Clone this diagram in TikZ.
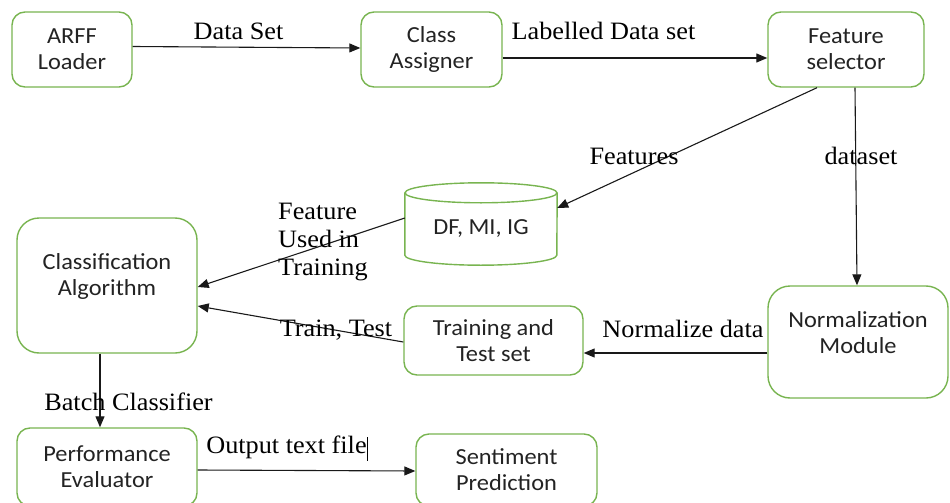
\documentclass[tikz,border=0pt]{standalone}
\usepackage{fontspec}
\setmainfont{Liberation Serif}[FakeStretch=1.05]
\newfontfamily\nodefont{Carlito}[FakeStretch=1.06]
\usetikzlibrary{arrows.meta}
\definecolor{boxgreen}{RGB}{120,180,80}
\definecolor{boxtext}{RGB}{35,35,35}
\tikzset{
  box/.style={draw=boxgreen, line width=1.4pt, rounded corners=13pt, align=center,
    font=\nodefont\fontsize{23}{26}\selectfont, text=boxtext, inner sep=0pt},
  bigbox/.style={box, rounded corners=22pt},
  boxlbl/.style={font=\nodefont\fontsize{23}{26}\selectfont, text=boxtext, align=center},
  conn/.style={draw=black!90, line width=1.1pt, -{Triangle[length=11pt,width=9pt]}},
  lbl/.style={font=\fontsize{25}{28}\selectfont, inner sep=0pt, text=black},
  cyl/.style={draw=boxgreen, line width=1.4pt}
}
\begin{document}
\begin{tikzpicture}[x=1pt,y=-1pt]
\useasboundingbox (0,0) rectangle (950,503);
% nodes
\node[box, minimum width=120pt, minimum height=75pt] (arff) at (72,49.5) {ARFF\\Loader};
\node[box, minimum width=141pt, minimum height=75pt] (cls) at (431.5,49.5) {Class\\Assigner};
\node[box, minimum width=156pt, minimum height=75pt] (fs) at (846,49.5) {Feature\\selector};
\node[minimum width=152pt, minimum height=82pt, inner sep=0pt,
  label={[boxlbl, yshift=-5pt]center:DF, MI, IG}] (db) at (481,224) {};
\draw[cyl] ([yshift=-10pt]db.north west) -- ([yshift=10pt]db.south west)
  arc[start angle=180, end angle=360, x radius=76pt, y radius=10pt] -- ([yshift=-10pt]db.north east);
\draw[cyl] ([yshift=-10pt]db.north) ellipse[x radius=76pt, y radius=10pt];
\node[bigbox, minimum width=180pt, minimum height=135pt,
  label={[boxlbl, yshift=9pt]center:Classification\\Algorithm}] (ca) at (107,285.5) {};
\node[box, minimum width=179pt, minimum height=69pt] (tt) at (493.5,340.5) {Training and\\Test set};
\node[bigbox, minimum width=180pt, minimum height=112pt,
  label={[boxlbl, yshift=9pt]center:Normalization\\Module}] (nm) at (858,342) {};
\node[box, minimum width=180pt, minimum height=78pt] (pe) at (107,467) {Performance\\Evaluator};
\node[box, minimum width=181pt, minimum height=72pt] (sp) at (506.5,470) {Sentiment\\Prediction};
% connectors
\draw[conn] ([yshift=3pt]arff.east) -- ([yshift=1.5pt]cls.west);
\draw[conn] ([yshift=-8.5pt]cls.east) -- ([yshift=-8.5pt]fs.west);
\draw[conn] ([xshift=-29pt]fs.south) -- ([yshift=16pt]db.east);
\draw[conn] ([xshift=9pt]fs.south) -- ([xshift=-1pt]nm.north);
\draw[conn] ([yshift=-11pt]nm.west) -- ([yshift=-12.5pt]tt.east);
\draw[conn] ([yshift=-1.5pt]tt.west) -- ([yshift=-20.5pt]ca.east);
\draw[conn] ([yshift=6pt]db.west) -- ([yshift=-1.5pt]ca.east);
\draw[conn] ([xshift=-7pt]ca.south) -- ([xshift=-7pt]pe.north);
\draw[conn] ([yshift=-3pt]pe.east) -- ([yshift=-1pt]sp.west);
% labels
\node[lbl] (l1) at (238.5,31) {Data Set};
\node[lbl] (l2) at (603.5,31) {Labelled Data set};
\node[lbl] (l3) at (634,156) {Features};
\node[lbl] (l4) at (861,156) {dataset};
\node[lbl, align=left, anchor=north west] (l5) at (278,203) {Feature\\Used in\\Training};
\node[lbl] (l6) at (336,330) {Train, Test};
\node[lbl] (l7) at (683,329) {Normalize data};
\node[lbl] (l8) at (128.5,402) {Batch Classifier};
\node[lbl] (l9) at (286.5,447) {Output text file};
\draw[line width=1pt] (367,437) -- (367,461);
\end{tikzpicture}
\end{document}
